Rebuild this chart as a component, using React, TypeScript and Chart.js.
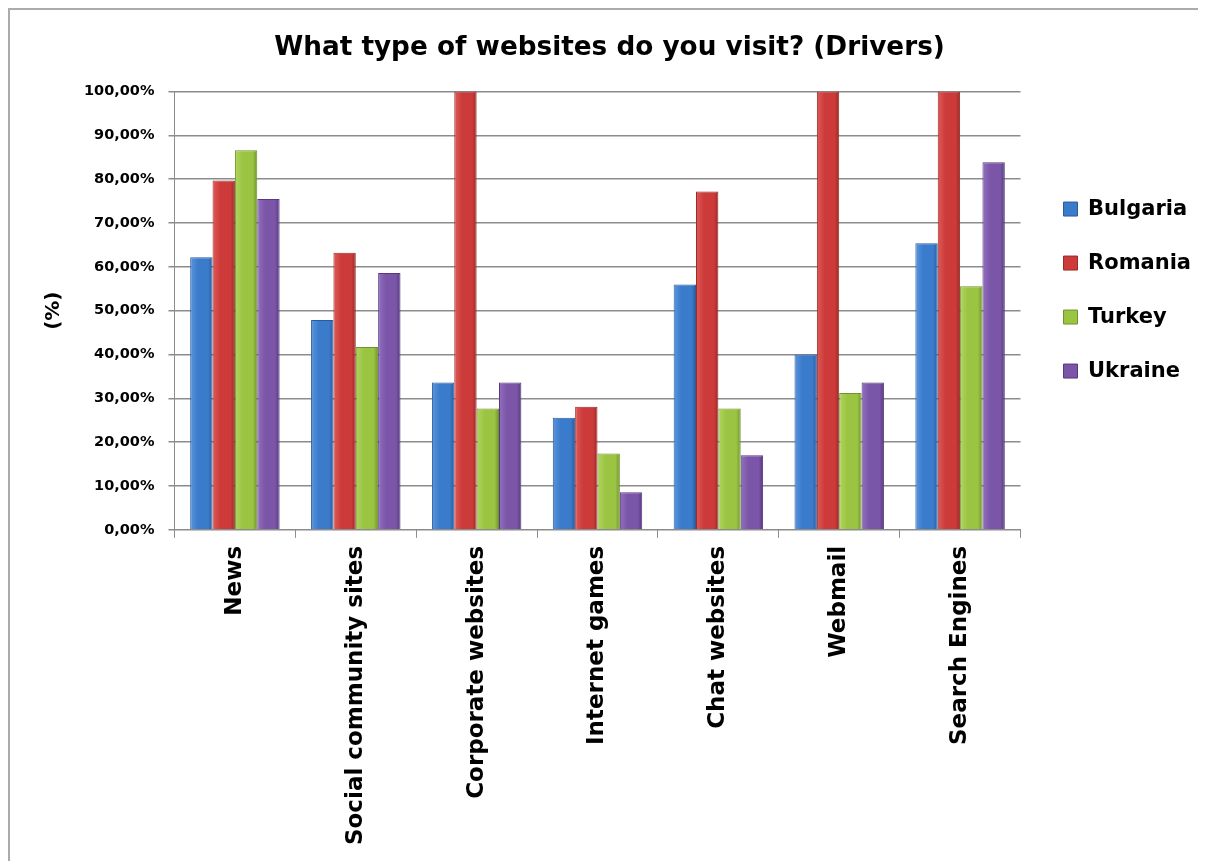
import React, { useEffect, useRef } from 'react';
import { Chart, registerables } from 'chart.js';

Chart.register(...registerables);

const categories = [
  'News',
  'Social community sites',
  'Corporate websites',
  'Internet games',
  'Chat websites',
  'Webmail',
  'Search Engines',
];
const seriesNames = ['Bulgaria', 'Romania', 'Turkey', 'Ukraine'];
const bulgaria = [62.2, 47.9, 33.6, 25.6, 56.0, 40.0, 65.4];
const romania = [79.7, 63.2, 100, 28.1, 77.2, 100, 100];
const turkey = [86.6, 41.7, 27.7, 17.4, 27.7, 31.2, 55.6];
const ukraine = [75.5, 58.6, 33.6, 8.6, 17.0, 33.6, 83.9];
const titleText = 'What type of websites do you visit? (Drivers)';
const yAxisTitle = '(%)';

const fills = ['#3a7bcc', '#cc3b39', '#9bc443', '#7a55a8'];
const lights = ['#5b95dc', '#de5a57', '#b0d65e', '#9270bf'];
const darks = ['#2a5c9c', '#992a28', '#6f942c', '#57397e'];

const bevelPlugin = {
  id: 'bevel',
  beforeDatasetsDraw(chart: any) {
    const ctx = chart.ctx;
    chart.data.datasets.forEach((_ds: any, di: number) => {
      const meta = chart.getDatasetMeta(di);
      meta.data.forEach((bar: any) => {
        const w = bar.width;
        const x0 = bar.x - w / 2;
        const g = ctx.createLinearGradient(x0, 0, x0 + w, 0);
        g.addColorStop(0, lights[di]);
        g.addColorStop(0.35, fills[di]);
        g.addColorStop(0.8, fills[di]);
        g.addColorStop(1, darks[di]);
        bar.options = Object.assign(Object.create(Object.getPrototypeOf(bar.options)), bar.options, {
          backgroundColor: g,
        });
      });
    });
  },
};

export default function App() {
  const ref = useRef<HTMLCanvasElement | null>(null);

  useEffect(() => {
    if (!ref.current) return;
    Chart.defaults.font.family = '"DejaVu Sans", sans-serif';
    const values = [bulgaria, romania, turkey, ukraine];
    const chart = new Chart(ref.current, {
      type: 'bar',
      data: {
        labels: categories,
        datasets: seriesNames.map((name, i) => ({
          label: name,
          data: values[i],
          backgroundColor: () => fills[i],
          borderColor: darks[i],
          borderWidth: 1,
          categoryPercentage: 0.74,
          barPercentage: 1.0,
        })),
      },
      plugins: [bevelPlugin],
      options: {
        responsive: false,
        animation: false,
        layout: { padding: { left: 8, right: 5, top: 0, bottom: 8 } },
        plugins: {
          tooltip: { enabled: false },
          title: {
            display: true,
            text: titleText,
            color: '#000',
            font: { size: 26.3, weight: 'bold' },
            padding: { top: 22, bottom: 28 },
          },
          legend: {
            position: 'right',
            align: 'start',
            fullSize: false,
            title: { display: true, text: '', font: { size: 10 }, padding: { top: 62, bottom: 0 } },
            labels: {
              boxWidth: 14,
              boxHeight: 14,
              padding: 33,
              color: '#000',
              font: { size: 21, weight: 'bold' },
            },
          },
        },
        scales: {
          x: {
            grid: { offset: true, drawOnChartArea: false, tickLength: 8, color: '#8c8c8c' },
            border: { color: '#8c8c8c' },
            ticks: {
              maxRotation: 90,
              minRotation: 90,
              color: '#000',
              padding: 8,
              font: { size: 23, weight: 'bold' },
            },
          },
          y: {
            min: 0,
            max: 100,
            grid: { color: '#8c8c8c', lineWidth: 1.5, tickLength: 6 },
            border: { color: '#8c8c8c' },
            ticks: {
              stepSize: 10,
              color: '#000',
              padding: 14,
              font: { size: 14.5, weight: 'bold' },
              callback: (v: any) => Number(v).toFixed(2).replace('.', ',') + '%',
            },
            title: {
              display: true,
              text: yAxisTitle,
              color: '#000',
              font: { size: 20, weight: 'bold' },
              padding: { top: 24, bottom: 4 },
            },
          },
          gap: {
            type: 'linear',
            position: 'right',
            display: true,
            grid: { display: false },
            border: { display: false },
            ticks: { display: false },
            afterFit: (s: any) => {
              s.width = 10;
            },
          },
        },
      },
    });
    return () => chart.destroy();
  }, []);

  return (
    <div
      style={{
        borderLeft: '2px solid #ababab',
        borderTop: '2px solid #ababab',
        width: 1198,
        height: 853,
        boxSizing: 'border-box',
      }}
    >
      <canvas ref={ref} width={1196} height={851} style={{ display: 'block' }} />
    </div>
  );
}
